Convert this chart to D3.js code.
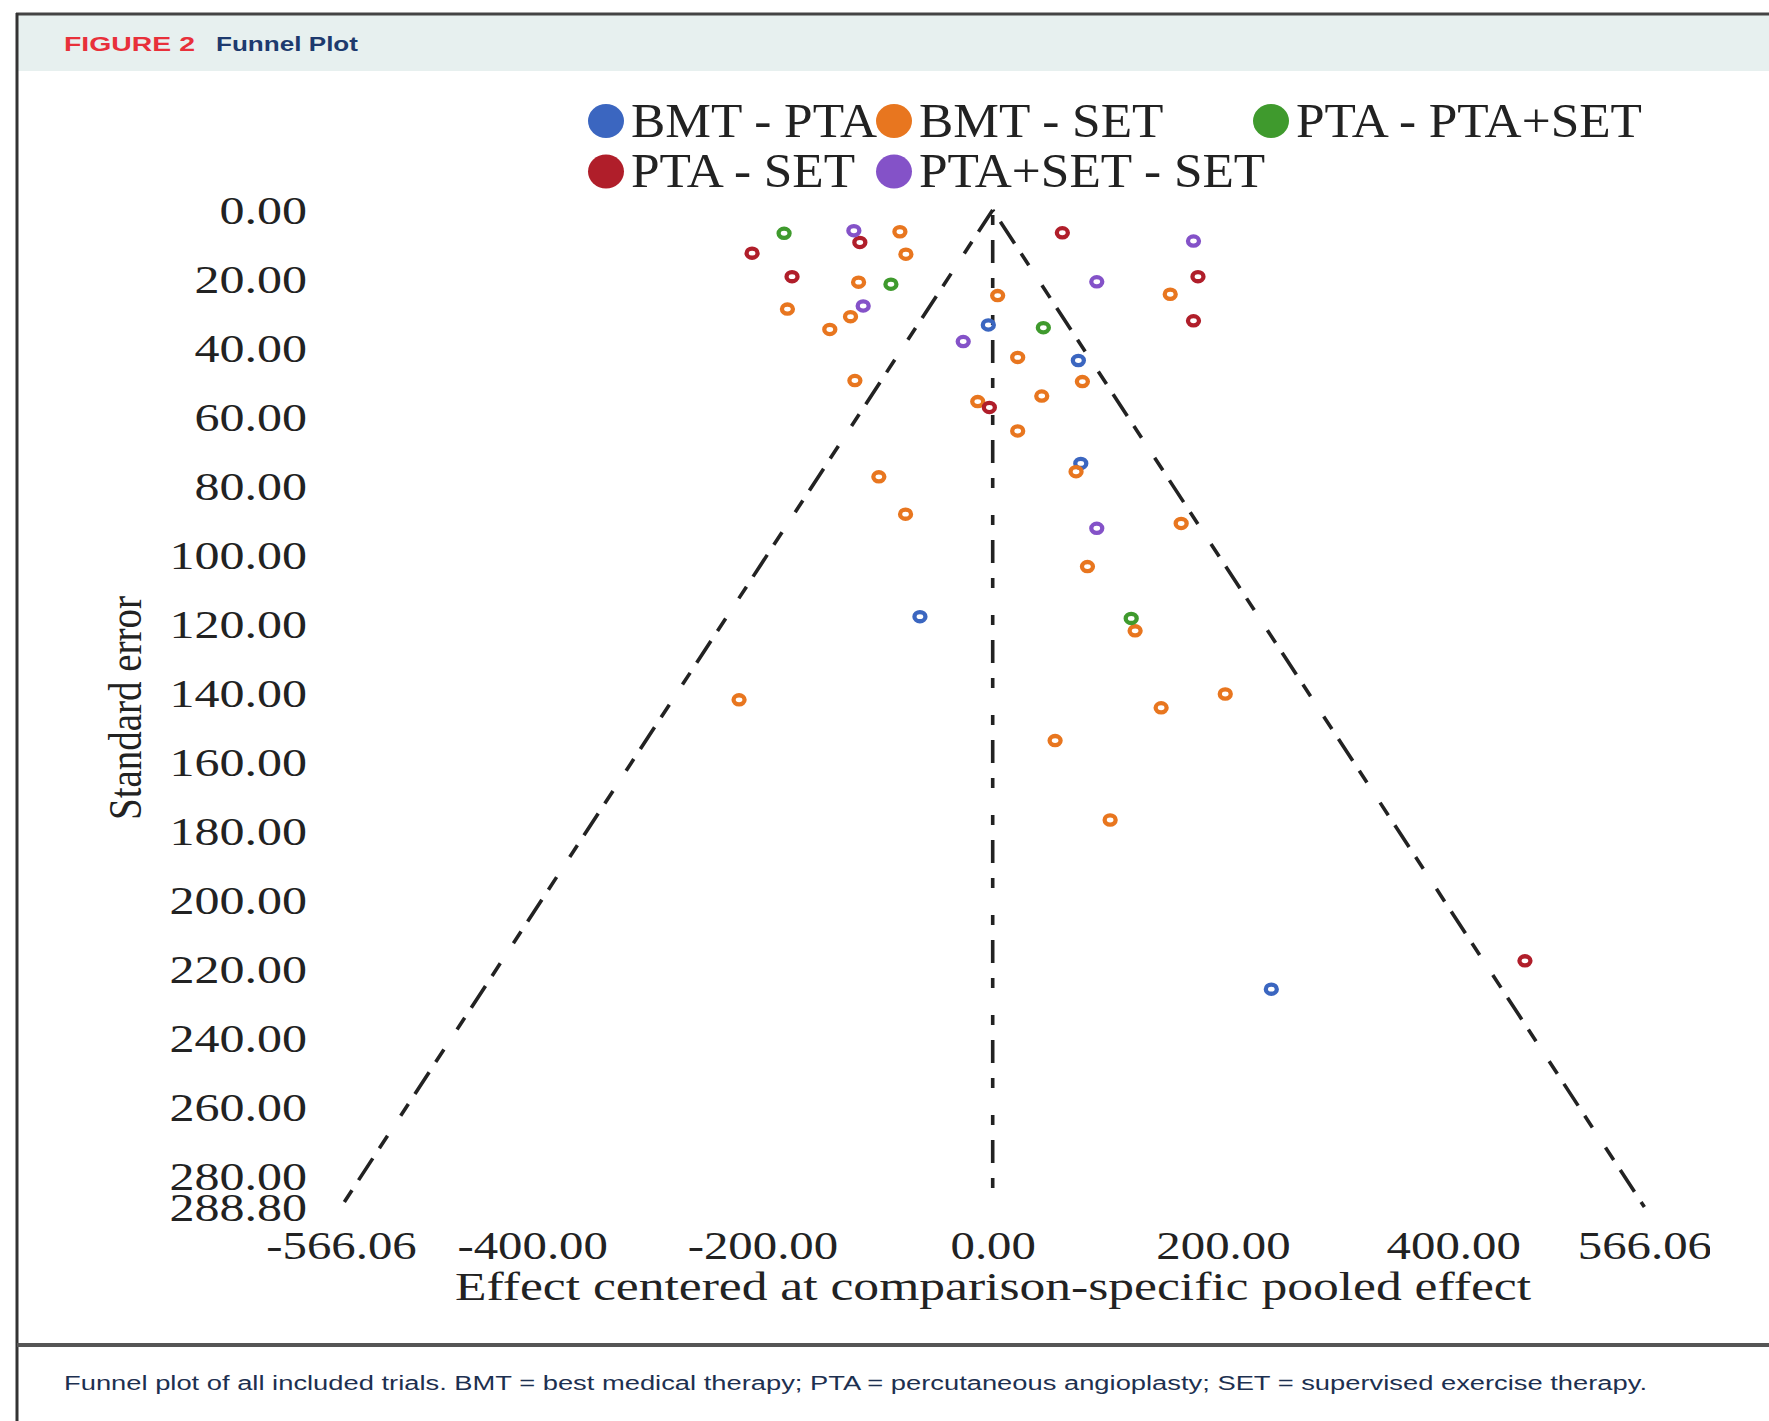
<!DOCTYPE html>
<html>
<head>
<meta charset="utf-8">
<script src="https://cdn.jsdelivr.net/npm/d3@7"></script>
<style>
  html, body { margin: 0; padding: 0; background: #fff; }
  svg { display: block; }
  .tick text { font-family: "Liberation Serif", "Times New Roman", serif; fill: #222; }
</style>
</head>
<body>
<div id="chart"></div>
<script>
/* Funnel plot: effect vs standard error, five comparisons */

const seriesNames = ["BMT - PTA", "BMT - SET", "PTA - PTA+SET", "PTA - SET", "PTA+SET - SET"];
const seriesColors = ["#3b66c0", "#e8761f", "#3f9a2d", "#b01e2a", "#8452c8"];

// [effect, standard error]
const bmtPta = [[-3.8, 33.3], [74.4, 43.6], [76.5, 73.4], [-63.2, 117.8], [242, 225.7]];
const bmtSet = [
  [-80.6, 6.3], [-75.4, 12.8], [-116.5, 20.9], [154.2, 24.4], [4.3, 24.8], [-178.3, 28.7],
  [-123.5, 30.9], [-141.5, 34.6], [21.7, 42.7], [-119.7, 49.4], [77.9, 49.7], [42.6, 53.9],
  [-13, 55.5], [21.7, 64], [72.4, 75.8], [-98.9, 77.3], [-75.7, 88.1], [163.7, 90.8],
  [82.3, 103.3], [123.7, 121.9], [-220.3, 141.9], [146.3, 144.2], [202, 140.2], [54.2, 153.7],
  [102, 176.7]
];
const ptaPtaSet = [[-181.2, 6.75], [-88.4, 21.5], [44, 34.1], [120.3, 118.3]];
const ptaSet = [[-115.4, 9.4], [-209, 12.5], [60.5, 6.6], [-174.3, 19.3], [178.3, 19.3], [174.4, 32.1], [-2.9, 57.2], [462.3, 217.5]];
const ptaSetSet = [[-120.6, 6.0], [174.4, 9.0], [90.4, 20.8], [-112.5, 27.8], [-25.6, 38.1], [90.4, 92.2]];

const xTicks = [-566.06, -400, -200, 0, 200, 400, 566.06];
const yTicks = [0, 20, 40, 60, 80, 100, 120, 140, 160, 180, 200, 220, 240, 260, 280, 288.8];

const funnelLeft = [[0, 0], [-566.06, 288.8]];
const funnelRight = [[0, 0], [566.06, 288.8]];
const centerLine = [[0, 0], [0, 288.8]];

const captionText = "Funnel plot of all included trials. BMT = best medical therapy; PTA = percutaneous angioplasty; SET = supervised exercise therapy.";

const W = 1769, H = 1421;
const serif = '"Liberation Serif", "Times New Roman", serif';
const sans = '"Liberation Sans", Arial, sans-serif';
const fmt = d => d3.format(".2f")(d).replace("\u2212", "-");

const svg = d3.select("#chart").append("svg").attr("width", W).attr("height", H);

// frame + header band
svg.append("rect").attr("x", 17).attr("y", 14).attr("width", W).attr("height", 57).attr("fill", "#e7f0ef");
svg.append("line").attr("x1", 16).attr("x2", W).attr("y1", 14).attr("y2", 14).attr("stroke", "#444").attr("stroke-width", 3);
svg.append("line").attr("x1", 17).attr("x2", 17).attr("y1", 13).attr("y2", H).attr("stroke", "#333").attr("stroke-width", 3);
svg.append("line").attr("x1", 17).attr("x2", W).attr("y1", 1345).attr("y2", 1345).attr("stroke", "#555").attr("stroke-width", 4);

svg.append("text").attr("x", 64).attr("y", 51)
  .attr("font-family", sans).attr("font-weight", "bold").attr("font-size", 20)
  .attr("fill", "#e8303a").attr("textLength", 131).attr("lengthAdjust", "spacingAndGlyphs")
  .text("FIGURE 2");
svg.append("text").attr("x", 216).attr("y", 51)
  .attr("font-family", sans).attr("font-weight", "bold").attr("font-size", 21)
  .attr("fill", "#1d3a6e").attr("textLength", 142).attr("lengthAdjust", "spacingAndGlyphs")
  .text("Funnel Plot");

svg.append("text").attr("x", 64).attr("y", 1390)
  .attr("font-family", sans).attr("font-size", 20).attr("fill", "#1d3050")
  .attr("textLength", 1583).attr("lengthAdjust", "spacingAndGlyphs")
  .text(captionText);

// scales
const x = d3.scaleLinear().domain([-566.06, 566.06]).range([341, 1644.4]);
const y = d3.scaleLinear().domain([0, 288.8]).range([210, 1207]);

// axes (labels only)
const yAxis = svg.append("g").attr("transform", "translate(307,0)")
  .call(d3.axisLeft(y).tickValues(yTicks).tickSize(0).tickPadding(0).tickFormat(fmt));
yAxis.select(".domain").remove();
yAxis.selectAll("text").attr("font-size", 41).attr("transform", "scale(1.22,1)");

svg.append("clipPath").attr("id", "xclip").append("rect")
  .attr("x", 0).attr("y", 0).attr("width", 1710).attr("height", H);
const xAxis = svg.append("g").attr("clip-path", "url(#xclip)")
  .append("g").attr("transform", `translate(0,${y(288.8)})`)
  .call(d3.axisBottom(x).tickValues(xTicks).tickSize(0).tickPadding(24).tickFormat(fmt));
xAxis.select(".domain").remove();
xAxis.selectAll("text").attr("font-size", 40).attr("transform", "scale(1.22,1)");

svg.append("text").attr("x", 993).attr("y", 1300)
  .attr("text-anchor", "middle").attr("font-family", serif).attr("font-size", 40).attr("fill", "#222")
  .attr("textLength", 1076).attr("lengthAdjust", "spacingAndGlyphs")
  .text("Effect centered at comparison-specific pooled effect");

svg.append("text").attr("transform", "translate(141,708) scale(1.2,1) rotate(-90)")
  .attr("text-anchor", "middle").attr("font-family", serif).attr("font-size", 39).attr("fill", "#222")
  .text("Standard error");

// funnel lines
const line = d3.line().x(d => x(d[0])).y(d => y(d[1]));
[funnelLeft, funnelRight, centerLine].forEach((pts, i) => {
  svg.append("path").datum(pts)
    .attr("d", line)
    .attr("fill", "none")
    .attr("stroke", "#222")
    .attr("stroke-width", 3.6)
    .attr("stroke-dasharray", i === 2 ? "23,15,10,27,10,15" : "26,12,14,24,15,12")
    .attr("stroke-dashoffset", i === 2 ? -30 : (i === 1 ? -14 : 0));
});

// points
const allSeries = [bmtPta, bmtSet, ptaPtaSet, ptaSet, ptaSetSet];
allSeries.forEach((pts, i) => {
  svg.append("g").selectAll("ellipse").data(pts).join("ellipse")
    .attr("cx", d => x(d[0]))
    .attr("cy", d => y(d[1]))
    .attr("rx", 5.5).attr("ry", 4.6)
    .attr("fill", "none")
    .attr("stroke", seriesColors[i])
    .attr("stroke-width", 4.3);
});

// legend
const legendPos = [[606, 121], [894, 121], [1271, 121], [606, 171.5], [894, 171.5]];
const lg = svg.append("g").selectAll("g").data(seriesNames).join("g")
  .attr("transform", (d, i) => `translate(${legendPos[i][0]},${legendPos[i][1]})`);
lg.append("ellipse").attr("rx", 18).attr("ry", 17).attr("fill", (d, i) => seriesColors[i]);
lg.append("text")
  .attr("transform", "translate(25,15.5) scale(1.07,1)")
  .attr("font-family", serif).attr("font-size", 48).attr("fill", "#222")
  .text(d => d);
</script>
</body>
</html>
